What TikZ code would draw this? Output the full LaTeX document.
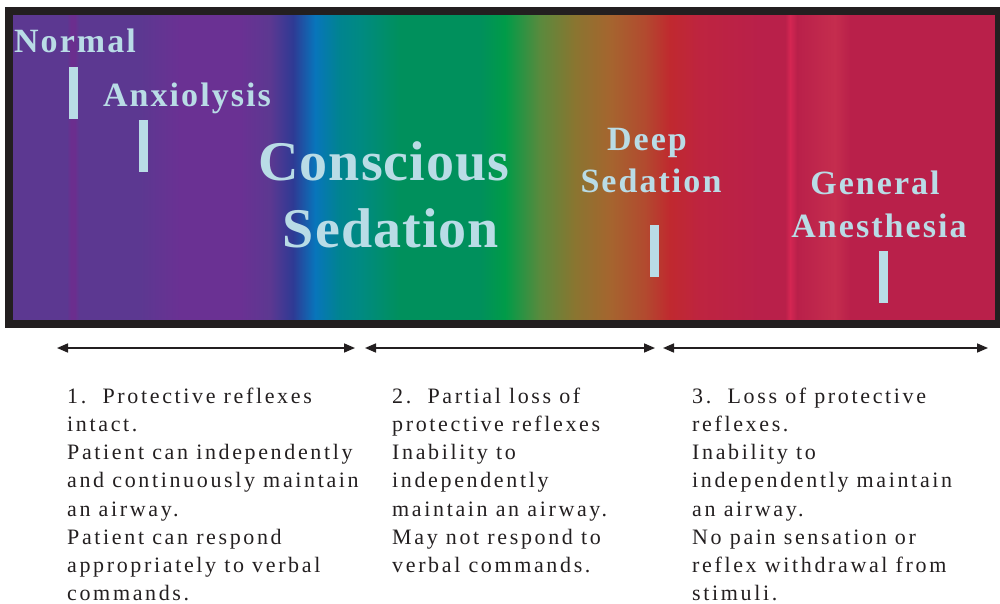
\documentclass[tikz,border=0pt]{standalone}
\usepackage{fontspec}
\setmainfont{Liberation Serif}
\newfontfamily\etiqfont[LetterSpace=6]{Liberation Serif}
\newfontfamily\grandefont[LetterSpace=2]{Liberation Serif}
\newfontfamily\textofont[LetterSpace=12]{Liberation Serif}
\usetikzlibrary{arrows.meta}

% Colores
\definecolor{celeste}{RGB}{185,220,230}
\definecolor{tinta}{HTML}{231F20}
\definecolor{morado}{HTML}{5C3891}
\definecolor{moradoB}{HTML}{6B2E8E}
\definecolor{violeta}{HTML}{6A3193}
\definecolor{azulosc}{HTML}{2E3A94}
\definecolor{azul}{HTML}{0875BB}
\definecolor{turquesa}{HTML}{00848F}
\definecolor{verdeazul}{HTML}{008A82}
\definecolor{verde}{HTML}{00905C}
\definecolor{verdeB}{HTML}{009B48}
\definecolor{verdeoliva}{HTML}{5A8A3D}
\definecolor{oliva}{HTML}{8A7530}
\definecolor{ocre}{HTML}{A5652F}
\definecolor{naranja}{HTML}{B24A2F}
\definecolor{rojo}{HTML}{C0292F}
\definecolor{carmin}{HTML}{BE2440}
\definecolor{frambuesa}{HTML}{B9204A}
\definecolor{rosa}{HTML}{D42652}
\definecolor{rosaB}{HTML}{C52D4E}

% Degradado de la barra (la parte 25bp--75bp cubre el rectangulo)
\pgfdeclarehorizontalshading{espectro}{100bp}{
  color(0bp)=(morado); color(25bp)=(morado); color(27.75bp)=(morado);
  color(27.95bp)=(moradoB); color(28.15bp)=(moradoB); color(28.35bp)=(morado);
  color(31.47bp)=(morado); color(33.5bp)=(violeta); color(36.56bp)=(violeta);
  color(38.09bp)=(morado); color(39.26bp)=(azulosc); color(40.38bp)=(azul);
  color(41.65bp)=(turquesa); color(42.67bp)=(verdeazul); color(44.7bp)=(verde);
  color(48.78bp)=(verde); color(50.05bp)=(verdeB); color(51.83bp)=(verdeoliva);
  color(53.61bp)=(oliva); color(55.4bp)=(ocre); color(57.18bp)=(naranja);
  color(58.45bp)=(rojo); color(59.98bp)=(carmin); color(63.03bp)=(frambuesa);
  color(64.31bp)=(frambuesa); color(64.56bp)=(rosa); color(64.92bp)=(frambuesa);
  color(66.85bp)=(rosaB); color(67.62bp)=(frambuesa); color(75bp)=(frambuesa);
  color(100bp)=(frambuesa)}

\tikzset{
  etiq/.style={font=\etiqfont\bfseries\fontsize{34}{34}\selectfont, text=celeste,
    inner sep=0, anchor=base},
  etiqgrande/.style={etiq, font=\grandefont\bfseries\fontsize{56}{56}\selectfont},
  texto/.style={font=\textofont\fontsize{22}{28.1}\selectfont, text=tinta,
    align=left, inner sep=0, anchor=north west},
  flecha/.style={tinta, line width=1.6, {Triangle[length=11pt,width=9pt]}-{Triangle[length=11pt,width=9pt]}}
}

\begin{document}
\begin{tikzpicture}[x=1pt, y=-1pt]
    \useasboundingbox (0,0) rectangle (1000,604);

    % Barra de colores con marco
    \shade[shading=espectro] (13,15) rectangle (995,320);
    \draw[tinta, line width=8] (9,11) rectangle (999,324);

    % Marcas verticales
    \foreach \x/\y in {69/67, 139/120, 650/225, 879/251}
        \fill[celeste] (\x,\y) rectangle ++(8.5,52);

    % Etiquetas de la barra
    \node[etiq] (normal) at (75,53) {Normal};
    \node[etiq] (ansiolisis) at (187,107) {Anxiolysis};
    \node[etiqgrande] (consciente) at (384,180) {Conscious};
    \node[etiqgrande] (sedacion) at (391,247) {Sedation};
    \node[etiq] (profunda) at (647,151) {Deep};
    \node[etiq] (sedprof) at (651,193) {Sedation};
    \node[etiq] (general) at (875,194) {General};
    \node[etiq] (anestesia) at (879,237) {Anesthesia};

    % Flechas de los tramos
    \coordinate (f1a) at (57,348);
    \coordinate (f1b) at (355,348);
    \coordinate (f2a) at (365,348);
    \coordinate (f2b) at (655,348);
    \coordinate (f3a) at (663,348);
    \coordinate (f3b) at (988,348);
    \draw[flecha] (f1a) -- (f1b);
    \draw[flecha] (f2a) -- (f2b);
    \draw[flecha] (f3a) -- (f3b);

    % Textos
    \node[texto] (tramo1) at (67,388) {1.\ \ Protective reflexes\\intact.\\Patient can independently\\and continuously maintain\\an airway.\\Patient can respond\\appropriately to verbal\\commands.};
    \node[texto] (tramo2) at (392,388) {2.\ \ Partial loss of\\protective reflexes\\Inability to\\independently\\maintain an airway.\\May not respond to\\verbal commands.};
    \node[texto] (tramo3) at (692,388) {3.\ \ Loss of protective\\reflexes.\\Inability to\\independently maintain\\an airway.\\No pain sensation or\\reflex withdrawal from\\stimuli.};
\end{tikzpicture}
\end{document}
